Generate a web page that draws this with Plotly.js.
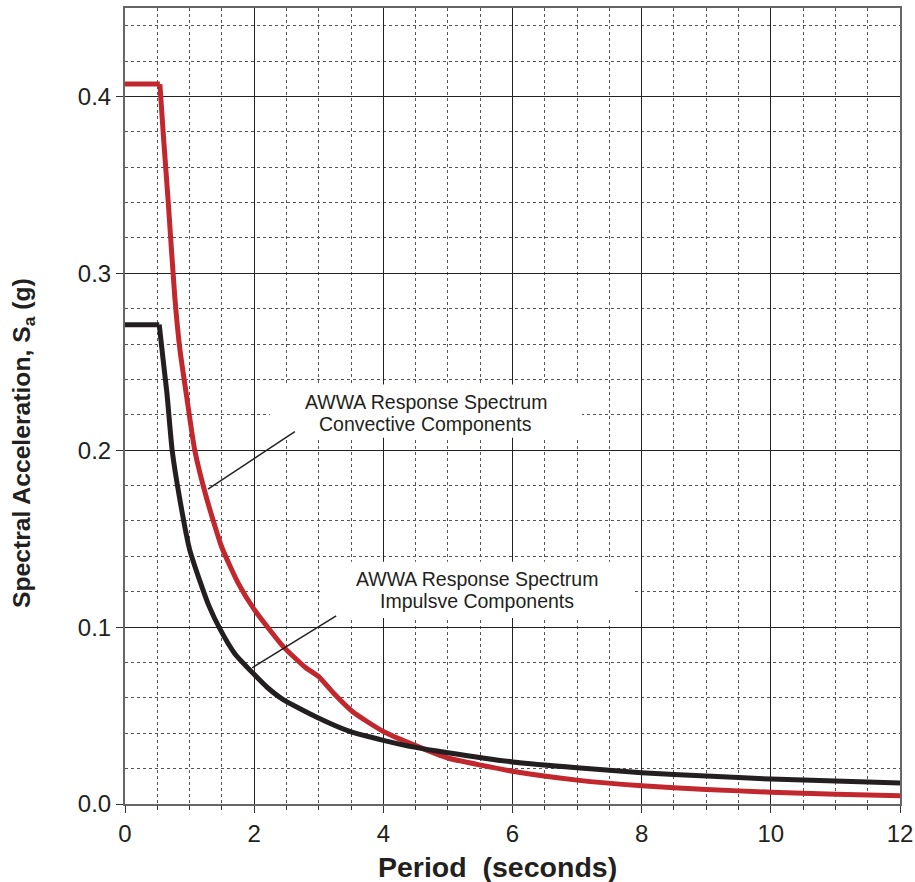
<!DOCTYPE html>
<html>
<head>
<meta charset="utf-8">
<script src="https://cdn.plot.ly/plotly-3.0.1.min.js"></script>
<style>html,body{margin:0;padding:0;background:#fff;}#chart{width:915px;height:882px;}</style>
</head>
<body>
<div id="chart"></div>
<script>
// Impulsive component (black)
const periodImp = [0, 0.53, 0.6, 0.65, 0.73, 0.85, 1.0, 1.16, 1.3, 1.47, 1.7, 1.98, 2.2, 2.45, 2.97, 3.48, 4.0, 4.5, 5, 6, 7, 8, 9, 10, 11, 12];
const saImp = [0.271, 0.271, 0.248, 0.232, 0.200, 0.172, 0.144, 0.126, 0.112, 0.099, 0.085, 0.074, 0.066, 0.059, 0.049, 0.041, 0.036, 0.032, 0.029, 0.0238, 0.0205, 0.0177, 0.0158, 0.0141, 0.013, 0.0119];
// Convective component (red)
const periodConv = [0, 0.54, 0.6, 0.67, 0.77, 0.85, 0.96, 1.08, 1.27, 1.5, 1.75, 2.0, 2.45, 2.8, 3.0, 3.22, 3.53, 4.0, 4.5, 5, 6, 7, 8, 9, 10, 11, 12];
const saConv = [0.407, 0.407, 0.375, 0.34, 0.287, 0.257, 0.229, 0.200, 0.172, 0.145, 0.125, 0.110, 0.089, 0.077, 0.072, 0.063, 0.052, 0.041, 0.033, 0.026, 0.0185, 0.0135, 0.0103, 0.0082, 0.0067, 0.0055, 0.0046];
const xTicks = [0, 2, 4, 6, 8, 10, 12];
const yTicks = [0.0, 0.1, 0.2, 0.3, 0.4];
const yTickText = ["0.0", "0.1", "0.2", "0.3", "0.4"];
const labelConv = ["AWWA Response Spectrum", "Convective Components"];
const labelImp = ["AWWA Response Spectrum", "Impulsve Components"];
const xTitle = "<b>Period  (seconds)</b>";
const yTitle = "<b>Spectral Acceleration, S<sub>a</sub> (g)</b>";

const FONT = "Liberation Sans, Arial, sans-serif";
const TXT = "#231f20";

function curve(x, y, color) {
  return {x: x, y: y, mode: "lines", line: {color: color, width: 5, shape: "spline", smoothing: 0.5}, hoverinfo: "skip"};
}
function plateau(x, y, color) {
  return {x: x.slice(0, 2), y: y.slice(0, 2), mode: "lines", line: {color: color, width: 5}, hoverinfo: "skip"};
}

const traces = [
  plateau(periodConv, saConv, "#c1272d"),
  curve(periodConv.slice(1), saConv.slice(1), "#c1272d"),
  plateau(periodImp, saImp, "#231f20"),
  curve(periodImp.slice(1), saImp.slice(1), "#231f20")
];

const annFont = {size: 19.5, color: TXT, family: FONT};
function lineAnn(x, y, text) {
  return {xref: "x", yref: "y", x: x, y: y, text: text, showarrow: false, xanchor: "center", yanchor: "middle", font: annFont};
}

const layout = {
  width: 915, height: 882,
  margin: {l: 125, r: 15, t: 8, b: 78},
  paper_bgcolor: "#fff", plot_bgcolor: "#fff",
  showlegend: false,
  font: {family: FONT, color: TXT},
  xaxis: {
    range: [0, 12], tickvals: xTicks, ticktext: xTicks.map(String),
    ticks: "outside", ticklen: 7, tickcolor: "#333", tickwidth: 1,
    tickfont: {size: 24, color: TXT},
    showgrid: true, gridcolor: "#222", gridwidth: 1,
    minor: {dtick: 0.5, showgrid: true, gridcolor: "#555", griddash: "dot", gridwidth: 1, ticks: "outside", ticklen: 4, tickcolor: "#333"},
    showline: true, linecolor: "#666", linewidth: 2, mirror: true,
    zeroline: false
  },
  yaxis: {
    range: [0, 0.45], tickvals: yTicks, ticktext: yTickText,
    ticks: "outside", ticklen: 7, tickcolor: "#333", tickwidth: 1,
    tickfont: {size: 24, color: TXT},
    showgrid: true, gridcolor: "#222", gridwidth: 1,
    minor: {dtick: 0.02, showgrid: true, gridcolor: "#555", griddash: "dot", gridwidth: 1},
    showline: true, linecolor: "#666", linewidth: 2, mirror: true,
    zeroline: false
  },
  shapes: [
    {type: "rect", xref: "x", yref: "y", x0: 2.245, x1: 7.077, y0: 0.2071, y1: 0.2371, fillcolor: "#fff", line: {width: 0}, layer: "above"},
    {type: "rect", xref: "x", yref: "y", x0: 3.02, x1: 7.866, y0: 0.1052, y1: 0.1369, fillcolor: "#fff", line: {width: 0}, layer: "above"},
    {type: "line", xref: "x", yref: "y", x0: 2.63, y0: 0.2105, x1: 1.285, y1: 0.178, line: {color: "#231f20", width: 1.5}, layer: "above"},
    {type: "line", xref: "x", yref: "y", x0: 3.27, y0: 0.1064, x1: 1.97, y1: 0.077, line: {color: "#231f20", width: 1.5}, layer: "above"}
  ],
  annotations: [
    lineAnn(4.66, 0.2274, labelConv[0]),
    lineAnn(4.66, 0.2150, labelConv[1]),
    lineAnn(5.445, 0.1274, labelImp[0]),
    lineAnn(5.445, 0.1150, labelImp[1]),
    {xref: "paper", yref: "paper", x: 0.4806, y: -0.0792, text: xTitle, showarrow: false,
     xanchor: "center", yanchor: "middle", font: {size: 28.5, color: TXT, family: FONT}},
    {xref: "paper", yref: "paper", x: -0.1316, y: 0.4535, text: yTitle, showarrow: false, textangle: -90,
     xanchor: "center", yanchor: "middle", font: {size: 24.7, color: TXT, family: FONT}}
  ]
};

Plotly.newPlot("chart", traces, layout, {staticPlot: true, displayModeBar: false});
</script>
</body>
</html>
